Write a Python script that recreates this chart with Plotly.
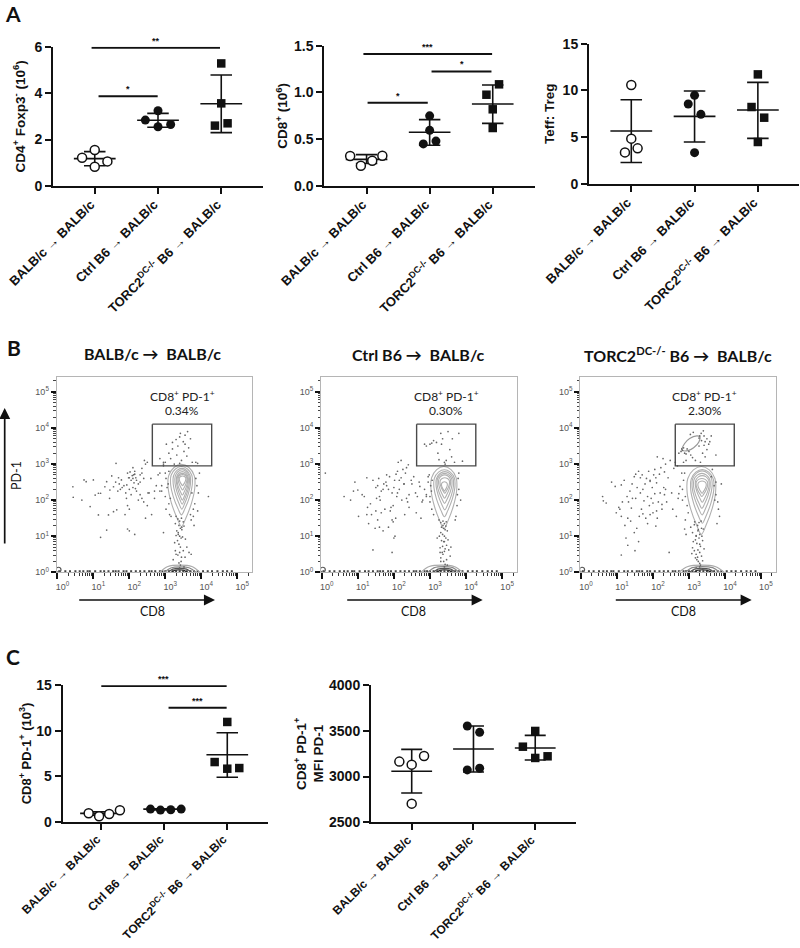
import numpy as np
import plotly.graph_objects as go

W, H = 800, 948
BLACK = "#111111"
SANS = "Liberation Sans, Arial, sans-serif"
CAL = "Lato"

cat_labels = ["BALB/c \u2192 BALB/c", "Ctrl B6 \u2192 BALB/c", "TORC2<sup>DC-/-</sup> B6 \u2192 BALB/c"]
symbols = ["circle", "circle", "square"]

# ---- Panel A1
a1_x = [[0, -0.2, 0.2, 0], [0, -0.2, 0.2, 0], [0, 0, 0.1, -0.1]]
a1_y = [[1.55, 1.22, 1.06, 0.83], [3.24, 2.84, 2.65, 2.55], [5.28, 3.56, 2.70, 2.60]]
a1_mean = [1.18, 2.83, 3.54]
a1_hi = [1.48, 3.13, 4.78]
a1_lo = [0.87, 2.53, 2.30]
a1_brk = [(-0.05, 1.98, 5.96, "**"), (0.06, 0.995, 3.87, "*")]
# ---- Panel A2
a2_x = [[-0.26, 0.25, 0.09, -0.09], [0, 0, 0.1, -0.1], [0.1, -0.1, 0, 0]]
a2_y = [[0.32, 0.324, 0.27, 0.217], [0.75, 0.595, 0.48, 0.45], [1.087, 0.976, 0.82, 0.62]]
a2_mean = [0.285, 0.574, 0.876]
a2_hi = [0.335, 0.71, 1.08]
a2_lo = [0.24, 0.435, 0.67]
a2_brk = [(-0.05, 1.99, 1.41, "***"), (1.03, 1.98, 1.225, "*"), (0.016, 0.97, 0.89, "*")]
# ---- Panel A3
a3_x = [[0, 0, 0.1, -0.1], [0, -0.1, 0.1, 0], [0, -0.1, 0.1, 0]]
a3_y = [[10.58, 4.85, 3.81, 3.38], [9.48, 8.55, 7.45, 3.35], [11.72, 8.23, 7.09, 4.49]]
a3_mean = [5.66, 7.23, 7.91]
a3_hi = [9.0, 9.94, 10.87]
a3_lo = [2.3, 4.49, 4.88]
# ---- Panel C1
c1_x = [[0.3, -0.195, 0.13, -0.03], [-0.216, -0.058, 0.105, 0.27], [0, -0.2, 0, 0.19]]
c1_y = [[1.25, 0.92, 0.84, 0.59], [1.39, 1.28, 1.32, 1.39], [10.97, 6.56, 5.83, 5.9]]
c1_mean = [0.92, 1.38, 7.37]
c1_hi = [1.1, 1.42, 9.79]
c1_lo = [0.72, 1.3, 4.88]
c1_brk = [(0.005, 1.99, 14.93, "***"), (1.07, 1.99, 12.54, "***")]
# ---- Panel C2
c2_x = [[0.2, -0.2, 0, 0], [-0.1, 0.1, 0.1, -0.1], [0, -0.2, 0.2, 0]]
c2_y = [[3225, 3163, 3130, 2704], [3552, 3483, 3090, 3072], [3498, 3326, 3221, 3203]]
c2_mean = [3057, 3301, 3312]
c2_hi = [3297, 3552, 3450]
c2_lo = [2820, 3050, 3181]

# ---- Flow plots: log10 units
f1_x = [.43,.44,.68,.74,.8,1.0,.91,1.05,1.14,1.2,1.14,1.2,1.37,1.42,1.32,1.37,1.51,1.63,1.46,1.56,1.65,1.56,1.78,1.85,1.9,1.92,1.95,2.0,1.88,1.95,2.0,2.05,2.1,2.12,2.15,2.18,2.2,2.13,2.25,2.3,2.35,2.4,2.45,2.5,2.42,1.68,1.75,1.8,1.72,1.62,2.0,2.05,2.1,2.2,2.3,2.35,2.4,2.5,2.45,2.62,1.95,2.0,2.15,2.25,2.55,2.7,2.75,2.8,2.85,2.95,2.7,2.85,2.9,3.0,2.95,2.85,2.6,2.3,2.15,2.08,2.02,1.98,1.93,2.1,2.17,1.7,1.45,2.35,2.52,
 3.3,3.35,3.4,3.45,3.28,3.38,3.5,3.42,3.32,3.36,3.46,3.52,3.3,3.4,3.44,3.34,3.48,3.38,3.42,3.56,3.26,3.5,3.4,3.35,3.45,3.6,3.3,3.44,3.38,3.42,3.55,3.28,3.66,3.72,3.4,3.22,3.52,3.36,3.46,
 3.02,3.05,3.0,3.1,3.08,3.12,3.85,3.88,3.92,3.82,3.95,3.9,3.78,3.02,3.1,3.14,3.78,3.74,3.72,3.8,4.2,2.9,2.95,3.16,3.7,
 3.0,3.03,3.1,3.15,3.2,3.2,3.3,3.32,3.35,3.4,3.45,3.5,3.52,3.55,3.55,3.6,3.62,3.65,3.7,3.75,3.4,3.25,2.95,3.9,3.85,3.42]
f1_y = [2.37,2.08,2.0,2.56,2.51,2.56,1.82,2.14,2.19,2.19,1.59,.97,1.17,1.59,2.37,2.51,2.67,3.02,2.28,2.37,1.73,1.68,2.56,2.4,2.2,2.05,1.85,1.75,1.6,2.75,2.62,2.55,2.6,2.7,2.8,2.62,2.55,2.48,2.45,2.7,2.75,2.6,3.0,3.05,3.1,2.25,2.3,2.35,2.45,2.5,2.3,2.15,2.35,2.25,2.15,2.05,1.95,1.85,1.5,1.6,1.2,1.15,1.05,2.0,2.2,2.25,2.4,2.7,2.75,2.95,2.05,2.25,2.4,2.75,3.05,3.15,2.6,2.5,2.72,2.68,2.78,2.62,2.42,2.9,2.32,2.62,2.05,2.88,2.2,
 1.55,1.48,1.42,1.5,1.35,1.3,1.4,1.22,1.15,1.1,1.18,1.28,1.02,1.0,.95,.88,.98,.78,.7,.92,.82,.6,.55,.48,.42,.7,.5,.3,.26,.2,.42,.6,.55,.5,.12,.35,.15,1.05,1.25,
 2.6,2.35,2.1,1.9,2.45,1.6,2.6,2.4,2.2,1.9,2.75,1.7,1.55,1.75,2.8,2.05,1.75,2.2,1.45,1.3,2.1,2.25,1.1,1.55,1.6,
 3.05,3.55,3.3,3.15,3.42,3.6,3.68,3.25,3.5,3.75,3.1,3.62,3.35,3.8,3.55,3.22,3.9,3.45,3.7,3.05,3.02,3.0,3.0,3.02,3.05,3.85]

f2_x = [.1,.62,.8,.92,.88,1.0,1.12,1.02,1.25,1.27,1.3,1.48,1.42,1.5,1.55,1.52,1.6,1.62,1.58,1.7,1.65,1.72,1.78,1.8,1.85,1.88,1.8,1.95,2.0,2.02,2.06,2.1,2.15,2.2,2.25,2.28,2.32,2.35,2.4,2.12,2.2,2.15,2.08,1.98,1.9,1.75,1.65,1.55,1.6,1.7,1.85,1.95,2.05,2.0,1.95,2.1,2.22,2.3,2.38,2.42,2.48,2.55,2.6,2.65,2.7,2.5,2.42,2.35,2.28,2.78,2.72,2.85,2.9,2.95,2.8,2.62,2.75,2.9,2.95,1.25,1.42,1.35,1.98,1.92,1.5,2.03,1.38,1.18,
 3.25,3.3,3.36,3.4,3.45,3.32,3.38,3.42,3.3,3.48,3.35,3.4,3.44,3.26,3.32,3.38,3.5,3.46,3.35,3.42,3.28,3.4,3.36,3.52,3.3,3.46,3.38,3.42,3.56,3.34,3.48,3.4,3.3,3.36,3.44,3.58,3.2,3.28,3.4,
 2.98,3.02,3.0,3.05,3.1,3.78,3.8,3.85,3.75,3.72,3.8,3.76,3.7,3.0,3.04,3.06,
 2.85,2.9,3.0,3.05,3.1,3.18,3.22,3.3,3.32,3.35,3.45,3.5,3.55,3.6,3.62,3.68,3.8,3.9,3.42,3.4,3.25]
f2_y = [2.75,2.1,2.0,2.5,2.25,2.28,2.15,1.55,1.6,1.8,1.35,1.22,.62,2.35,2.4,2.05,2.1,2.0,2.6,2.3,2.25,2.45,2.5,2.4,2.3,2.65,2.7,2.2,2.35,2.55,2.72,2.8,2.55,2.62,2.85,2.45,2.75,2.9,2.98,3.05,3.1,2.3,2.1,1.85,1.7,1.75,1.65,1.45,1.25,1.15,1.25,1.45,1.5,.95,.55,2.2,2.0,1.6,1.95,1.8,2.55,2.65,2.2,2.1,2.5,2.45,2.15,2.05,2.45,1.95,2.38,2.3,2.15,2.5,2.0,1.65,1.5,2.1,2.65,2.62,2.55,1.9,1.4,1.8,1.7,1.0,1.6,2.1,
 1.45,1.38,1.42,1.35,1.4,1.25,1.22,1.18,1.1,1.15,1.05,1.0,.95,1.0,.88,.85,.9,.75,.72,.65,.68,.58,.5,.62,.4,.35,.3,.22,.45,.55,.2,.15,.3,1.3,1.28,.7,.95,.55,.85,
 2.7,2.4,2.1,1.75,1.6,2.6,2.3,2.0,1.85,1.55,2.75,2.15,1.45,1.95,2.25,2.55,
 3.55,3.5,3.55,3.58,3.65,3.6,3.3,3.85,3.55,3.7,3.1,3.9,3.4,3.2,3.7,3.05,3.85,3.08,3.0,3.05,3.12]

f3_x = [.6,.62,.7,.85,.95,.98,1.08,1.12,1.15,1.22,1.25,1.3,1.32,1.38,1.12,1.05,1.2,1.28,1.4,1.43,1.36,1.48,1.52,1.56,1.6,1.65,1.7,1.72,1.78,1.82,1.88,1.92,1.98,2.02,2.05,2.1,2.12,2.18,2.22,2.28,2.32,2.35,2.42,2.48,2.52,2.58,2.62,2.68,1.75,1.68,1.62,1.85,1.9,1.95,2.0,2.05,2.1,2.15,2.2,2.25,2.3,1.55,1.5,1.6,1.72,1.8,1.85,1.92,2.0,2.08,2.12,2.25,2.32,2.38,1.48,1.3,1.12,1.42,1.52,1.65,1.92,2.08,2.7,2.75,2.8,2.55,2.45,2.72,2.65,2.82,2.35,
 3.05,3.1,3.15,3.2,3.25,3.3,3.35,3.18,3.22,3.28,3.32,3.12,3.38,3.25,3.2,3.3,3.35,3.15,3.1,3.24,3.28,3.34,3.4,3.22,3.18,3.3,3.26,3.32,3.38,3.08,3.2,3.3,3.42,3.2,3.26,3.36,3.3,3.24,3.34,3.16,
 2.85,2.82,2.9,2.95,2.98,2.9,2.88,3.62,3.7,3.75,3.8,3.82,3.85,3.78,3.65,3.72,2.88,2.92,3.9,3.75,
 2.72,2.78,2.8,2.82,2.85,2.88,2.92,2.95,3.0,3.05,3.1,3.18,3.28,3.3,3.34,3.4,3.42,3.45,3.5,3.55,3.58,3.62,3.28,3.38,3.45,3.32,2.85,2.92,3.75,3.35,3.42,3.5,3.04,3.12]
f3_y = [2.1,1.98,1.92,2.5,2.38,1.65,1.75,1.55,1.95,1.3,.95,1.5,1.95,1.42,2.42,1.8,2.55,2.1,1.78,2.05,2.25,2.65,2.72,2.35,2.8,2.62,2.7,2.3,2.45,2.6,2.8,2.55,2.35,2.7,2.85,2.48,3.2,2.72,2.9,3.15,2.78,3.0,2.62,3.1,2.2,2.88,3.05,2.95,1.98,1.75,1.55,2.1,1.85,2.05,1.92,2.18,1.7,1.95,2.2,1.88,2.35,1.22,.6,.85,1.62,1.5,1.35,1.6,1.65,1.28,1.5,1.75,2.15,1.95,1.1,.75,.48,2.45,2.05,2.2,2.52,2.62,2.05,2.38,2.75,1.75,.55,2.18,1.55,2.0,2.3,
 1.25,1.1,1.32,1.0,1.15,1.05,1.22,.9,.8,.95,.72,.85,.88,.62,.5,.55,.45,.6,.68,1.3,1.38,1.42,1.2,.35,.4,.25,.3,.2,.32,.52,.12,.15,.65,1.02,1.18,1.0,.78,.42,.1,1.4,
 2.55,2.3,2.1,1.85,1.65,1.45,2.75,2.65,2.4,2.15,1.95,1.75,1.55,1.35,2.85,2.0,1.2,1.05,2.45,2.5,
 3.3,3.35,3.42,3.38,3.45,3.3,3.28,3.42,3.35,3.25,3.18,3.1,3.72,3.78,3.85,3.92,3.78,3.62,3.7,3.55,3.62,3.78,3.5,3.3,3.2,3.05,3.05,3.1,3.25,3.65,3.52,3.4,3.82,3.88]

baseline_x = [.05,.22,.35,.5,.62,.72,.84,.9,1.05,1.2,1.3,1.42,1.55,1.62,1.7,1.84,1.92,2.05,2.18,2.3,2.42,2.55,2.62,2.72,2.85,2.92,3.0,3.1,3.2,3.3,3.4,3.5,3.6,3.7,3.8,3.9,4.05,4.18,4.3,4.45,4.6,4.72,4.85]

gate_x = [[2.64, 4.29, 4.29, 2.64, 2.64], [2.63, 4.27, 4.27, 2.63, 2.63], [2.62, 4.26, 4.26, 2.62, 2.62]]
gate_y = [4.105, 4.105, 2.95, 2.95, 4.105]
gate_pct = ["0.34%", "0.30%", "2.30%"]

# contour extents: left, right, top, bottom (log10 units)
cont1 = [(3.08,3.82,2.99,1.27),(3.15,3.75,2.93,1.59),(3.22,3.70,2.88,1.75),(3.27,3.67,2.84,1.89),(3.31,3.64,2.79,2.0),(3.33,3.62,2.74,2.14),(3.36,3.60,2.71,2.28),(3.39,3.57,2.67,2.40)]
cont2 = [(3.03,3.74,2.93,1.20),(3.11,3.69,2.84,1.54),(3.17,3.65,2.79,1.73),(3.20,3.61,2.74,1.91),(3.24,3.57,2.70,2.05),(3.28,3.54,2.62,2.19),(3.32,3.48,2.51,2.25)]
cont3 = [(2.95,3.74,2.93,1.05),(3.05,3.69,2.85,1.36),(3.09,3.64,2.81,1.59),(3.13,3.59,2.74,1.77),(3.18,3.56,2.68,1.94),(3.20,3.52,2.60,2.10),(3.25,3.48,2.53,2.19)]
# bottom humps: left, right, height
hump1 = [(2.85,3.96,.20),(2.98,3.85,.15),(3.08,3.72,.11),(3.18,3.6,.07)]
hump2 = [(2.75,3.9,.20),(2.95,3.8,.16),(3.1,3.7,.11),(3.2,3.6,.07)]
hump3 = [(2.72,3.98,.20),(2.9,3.85,.16),(3.02,3.7,.11),(3.15,3.6,.07)]
loop3_x = [2.81,2.88,3.02,3.22,3.30,3.28,3.13,2.97,2.81]
loop3_y = [3.39,3.57,3.71,3.78,3.76,3.62,3.45,3.37,3.39]

fig = go.Figure()
layout = {}
ann = []
idx = [0]


def new_axes(x0, x1, y0, y1):
    idx[0] += 1
    n = idx[0]
    xn, yn = ("x", "y") if n == 1 else (f"x{n}", f"y{n}")
    xa = "xaxis" if n == 1 else f"xaxis{n}"
    ya = "yaxis" if n == 1 else f"yaxis{n}"
    base = dict(domain=[x0 / W, x1 / W], anchor=yn, zeroline=False, showgrid=False, automargin=False)
    basey = dict(domain=[1 - y1 / H, 1 - y0 / H], anchor=xn, zeroline=False, showgrid=False, automargin=False)
    layout[xa], layout[ya] = base, basey
    return xn, yn, xa, ya


def dot_panel(x0, x1, y0, y1, xr, yr, yt, ytext, title, xs, ys, mean, hi, lo, brk, standoff, cat_size=13, title_size=13.5):
    mw = 0.33
    xn, yn, xa, ya = new_axes(x0, x1, y0, y1)
    layout[xa].update(range=xr, tickvals=[0, 1, 2], ticktext=cat_labels, tickangle=-45,
                      showline=True, linewidth=2, linecolor=BLACK, ticks="outside", ticklen=6, tickwidth=2,
                      ticklabelshift=-4, ticklabelstandoff=-2,
                      tickcolor=BLACK, tickfont=dict(family=SANS, size=cat_size, color=BLACK, weight="bold"))
    layout[ya].update(range=yr, tickvals=yt, ticktext=ytext, showline=True, linewidth=2, linecolor=BLACK,
                      ticks="outside", ticklen=6, tickwidth=2, tickcolor=BLACK,
                      tickfont=dict(family=SANS, size=14, color=BLACK, weight="bold"),
                      title=dict(text=title, standoff=standoff, font=dict(family=SANS, size=title_size, color=BLACK, weight="bold")))
    for i in range(3):
        lx = [i - mw, i + mw, None, i, i, None, i - .17, i + .17, None, i - .17, i + .17]
        ly = [mean[i], mean[i], None, lo[i], hi[i], None, hi[i], hi[i], None, lo[i], lo[i]]
        fig.add_trace(go.Scatter(x=lx, y=ly, mode="lines", line=dict(color=BLACK, width=1.6), xaxis=xn, yaxis=yn,
                                 showlegend=False, hoverinfo="skip", cliponaxis=False))
    for i in range(3):
        fill = "white" if i == 0 else BLACK
        fig.add_trace(go.Scatter(x=[i + d for d in xs[i]], y=ys[i], mode="markers", xaxis=xn, yaxis=yn, showlegend=False,
                                 cliponaxis=False,
                                 marker=dict(symbol=symbols[i], size=9 if i == 0 else (9 if i == 1 else 8.5), color=fill,
                                             line=dict(color=BLACK, width=1.5 if i == 0 else 0))))
    for a, b, yv, s in brk:
        fig.add_trace(go.Scatter(x=[a, b], y=[yv, yv], mode="lines", line=dict(color=BLACK, width=2), xaxis=xn, yaxis=yn,
                                 showlegend=False, hoverinfo="skip", cliponaxis=False))
        ann.append(dict(x=(a + b) / 2, y=yv, xref=xn, yref=yn, text=s, showarrow=False, yshift=7,
                        font=dict(family=SANS, size=9, color=BLACK, weight="bold")))


dot_panel(53, 263, 46.7, 186, [-0.66, 2.66], [0, 6], [0, 2, 4, 6], ["0", "2", "4", "6"],
          "CD4<sup>+</sup> Foxp3<sup>-</sup> (10<sup>6</sup>)", a1_x, a1_y, a1_mean, a1_hi, a1_lo, a1_brk, 6)
dot_panel(324.3, 535, 45.7, 186, [-0.67, 2.67], [0, 1.5], [0, .5, 1, 1.5], ["0.0", "0.5", "1.0", "1.5"],
          "CD8<sup>+</sup> (10<sup>6</sup>)", a2_x, a2_y, a2_mean, a2_hi, a2_lo, a2_brk, 3)
dot_panel(589, 799, 43.7, 184, [-0.668, 2.65], [0, 15], [0, 5, 10, 15], ["0", "5", "10", "15"],
          "Teff: Treg", a3_x, a3_y, a3_mean, a3_hi, a3_lo, [], 5)
dot_panel(62.7, 267.7, 685.3, 821.7, [-0.606, 2.64], [0, 15], [0, 5, 10, 15], ["0", "5", "10", "15"],
          "CD8<sup>+</sup> PD-1<sup>+</sup> (10<sup>3</sup>)", c1_x, c1_y, c1_mean, c1_hi, c1_lo, c1_brk, 2, cat_size=12, title_size=13)
dot_panel(371, 576, 685, 822.3, [-0.659, 2.66], [2500, 4000], [2500, 3000, 3500, 4000], ["2500", "3000", "3500", "4000"],
          "CD8<sup>+</sup> PD-1<sup>+</sup><br>MFI PD-1", c2_x, c2_y, c2_mean, c2_hi, c2_lo, [], 2, cat_size=12)


def teardrop(l, r, t, b):
    c = (l + r) / 2
    w = r - l
    h = t - b
    xs = [c, l + .22 * w, l + .02 * w, l, l + .12 * w, l + .34 * w, c, r - .34 * w, r - .12 * w, r, r - .02 * w, r - .22 * w, c]
    ys = [t, t - .05 * h, t - .18 * h, t - .38 * h, t - .62 * h, t - .87 * h, b, t - .87 * h, t - .62 * h, t - .38 * h, t - .18 * h, t - .05 * h, t]
    return xs, ys


def flow_panel(x0, x1, dx, dy, conts, humps, gx, pct, extra=None):
    y0, y1 = 376.7, 572.3
    xn, yn, xa, ya = new_axes(x0, x1, y0, y1)
    major = [0, 1, 2, 3, 4, 5]
    minor = [round(d + float(np.log10(m)), 3) for d in range(0, 6) for m in range(2, 10) if d + np.log10(m) < 5.42]
    tf = dict(family=SANS, size=9, color="#555555")
    layout[xa].update(range=[-0.02, 5.42], tickvals=major, ticktext=[f"10<sup>{i}</sup>" for i in major], ticks="outside",
                      ticklen=6, tickwidth=2, tickcolor=BLACK, tickfont=tf, ticklabelshift=5, showline=True, linewidth=1,
                      linecolor="#b5b5b5", mirror=True,
                      minor=dict(tickvals=minor, ticks="outside", ticklen=3, tickwidth=1, tickcolor="#333333"))
    layout[ya].update(range=[0, 5.42], tickvals=major, ticktext=[f"10<sup>{i}</sup>" for i in major], ticks="outside",
                      ticklen=5, tickwidth=1.8, tickcolor=BLACK, tickfont=tf, showline=True, linewidth=1,
                      linecolor="#b5b5b5", mirror=True,
                      minor=dict(tickvals=minor, ticks="outside", ticklen=2.5, tickwidth=1, tickcolor="#444444"))
    fig.add_trace(go.Scatter(x=baseline_x, y=[0.03] * len(baseline_x), mode="markers", xaxis=xn, yaxis=yn, showlegend=False,
                             marker=dict(size=2, symbol="square", color="#444444"), hoverinfo="skip", cliponaxis=False))
    for i, (l, r, t, b) in enumerate(conts):
        xs, ys = teardrop(l, r, t, b)
        fig.add_trace(go.Scatter(x=xs, y=ys, mode="lines", line=dict(color="#b0b0b0", width=1.1, shape="spline", smoothing=1),
                                 xaxis=xn, yaxis=yn, showlegend=False, hoverinfo="skip"))
    for i, (l, r, h) in enumerate(humps):
        c = (l + r) / 2
        fig.add_trace(go.Scatter(x=[l, l + .2 * (r - l), c, r - .2 * (r - l), r], y=[0, .8 * h, h, .8 * h, 0], mode="lines",
                                 line=dict(color=["#aaaaaa", "#888888", "#555555", "#222222"][i], width=1.2, shape="spline"),
                                 xaxis=xn, yaxis=yn, showlegend=False, hoverinfo="skip"))
    fig.add_trace(go.Scatter(x=[0.03], y=[0.07], mode="markers", xaxis=xn, yaxis=yn, showlegend=False, hoverinfo="skip",
                             marker=dict(size=5, color="rgba(0,0,0,0)", line=dict(color="#555555", width=1.2))))
    if extra:
        fig.add_trace(go.Scatter(x=extra[0], y=extra[1], mode="lines", line=dict(color="#999999", width=1.2, shape="spline"),
                                 xaxis=xn, yaxis=yn, showlegend=False, hoverinfo="skip"))
    fig.add_trace(go.Scatter(x=dx, y=dy, mode="markers", xaxis=xn, yaxis=yn, showlegend=False, hoverinfo="skip",
                             marker=dict(size=1.7, color="#666666")))
    fig.add_trace(go.Scatter(x=gx, y=gate_y, mode="lines", line=dict(color="#4a4a4a", width=1.4), xaxis=xn, yaxis=yn,
                             showlegend=False, hoverinfo="skip"))
    ann.append(dict(x=(gx[0] + gx[1]) / 2, y=4.89, xref=xn, yref=yn, text="CD8<sup>+</sup> PD-1<sup>+</sup>", showarrow=False,
                    font=dict(family=CAL, size=12, color="#222222")))
    ann.append(dict(x=(gx[0] + gx[1]) / 2, y=4.47, xref=xn, yref=yn, text=pct, showarrow=False,
                    font=dict(family=CAL, size=12, color="#222222")))


flow_panel(56.7, 252.3, f1_x, f1_y, cont1, hump1, gate_x[0], gate_pct[0])
flow_panel(321, 517.3, f2_x, f2_y, cont2, hump2, gate_x[1], gate_pct[1])
flow_panel(580.3, 776, f3_x, f3_y, cont3, hump3, gate_x[2], gate_pct[2], extra=(loop3_x, loop3_y))


def paper_text(px, py, text, size, family=CAL, weight="normal", angle=0, color="#111111"):
    ann.append(dict(x=px / W, y=1 - py / H, xref="paper", yref="paper", text=text, showarrow=False, textangle=angle,
                    xanchor="center", yanchor="middle", font=dict(family=family, size=size, color=color, weight=weight)))


def paper_arrow(x0, y0, x1, y1):
    ann.append(dict(x=x1 / W, y=1 - y1 / H, ax=x0 - x1, ay=y0 - y1, xref="paper", yref="paper", axref="pixel", ayref="pixel",
                    text="", showarrow=True, arrowhead=2, arrowsize=1.3, arrowwidth=1.7, arrowcolor="#111111"))


paper_text(13, 13, "A", 21, weight="bold")
paper_text(14, 347, "B", 21, weight="bold")
paper_text(13, 656, "C", 21, weight="bold")
paper_text(152, 353, "BALB/c \u2192  BALB/c", 16, weight="bold")
paper_text(418, 354, "Ctrl B6 \u2192  BALB/c", 16, weight="bold")
paper_text(678, 354, "TORC2<sup>DC-/-</sup> B6 \u2192  BALB/c", 16, weight="bold")
paper_text(16, 476, "PD-1", 12.5, angle=-90)
paper_text(152, 611, "CD8", 12.5)
paper_text(414, 611, "CD8", 12.5)
paper_text(683, 611, "CD8", 12.5)
paper_arrow(77.7, 600, 215, 600)
paper_arrow(345.7, 600, 482.7, 600)
paper_arrow(614.3, 600, 751.7, 600)
paper_arrow(4.7, 545, 4.7, 408)

fig.update_layout(width=W, height=H, margin=dict(l=0, r=0, t=0, b=0), paper_bgcolor="white", plot_bgcolor="white",
                  showlegend=False, annotations=ann, **layout)
fig.write_html("out.html", post_script="document.body.style.margin='0';", config={"displayModeBar": False})
